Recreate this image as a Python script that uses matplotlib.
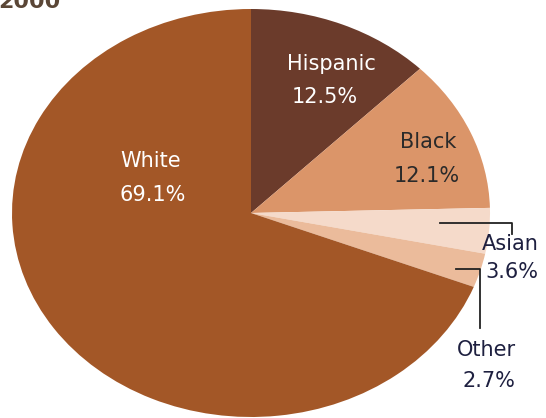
import numpy as np
import matplotlib.pyplot as plt
from matplotlib.lines import Line2D

# Data
groups = ['Hispanic', 'Black', 'Asian', 'Other', 'White']
shares = [12.5, 12.1, 3.6, 2.7, 69.1]
colors = ['#6B3B2B', '#DB9569', '#F5DACA', '#EBBB9B', '#A35727']
year = '2000'

W, H = 546, 418
fig = plt.figure(figsize=(W / 100, H / 100), dpi=100)


def px(x, y):
    # pixel coords (from top-left) -> figure fraction
    return x / W, 1 - y / H


# pie is stretched horizontally in the reference, so use an auto-aspect axes
left, right, top, bottom = 12, 490, 9, 417
ax = fig.add_axes([left / W, 1 - bottom / H, (right - left) / W, (bottom - top) / H])
ax.pie(shares, colors=colors, startangle=90, counterclock=False,
       wedgeprops=dict(linewidth=0))
ax.set_aspect('auto')
ax.set_xlim(-1, 1)
ax.set_ylim(-1, 1)
ax.axis('off')

fs = 15
inside = {
    'Hispanic': ((331, 64), (325, 97), 'white'),
    'Black': ((428, 142), (427, 176), '#2a2a2a'),
    'White': ((151, 161), (153, 195), 'white'),
}
for g, s in zip(groups, shares):
    if g in inside:
        (x1, y1), (x2, y2), c = inside[g]
        fig.text(*px(x1, y1), g, color=c, fontsize=fs, ha='center', va='center')
        fig.text(*px(x2, y2), f'{s}%', color=c, fontsize=fs, ha='center', va='center')

# outside labels with leader lines
lab_col = '#1e2040'
fig.text(*px(510, 244), 'Asian', color=lab_col, fontsize=fs, ha='center', va='center')
fig.text(*px(512, 272), f'{shares[2]}%', color=lab_col, fontsize=fs, ha='center', va='center')
fig.text(*px(486, 350), 'Other', color=lab_col, fontsize=fs, ha='center', va='center')
fig.text(*px(489, 381), f'{shares[3]}%', color=lab_col, fontsize=fs, ha='center', va='center')

for pts in [[(440, 223), (512, 223), (512, 234)],
            [(456, 269), (480, 269), (480, 328)]]:
    xs, ys = zip(*[px(*p) for p in pts])
    fig.add_artist(Line2D(xs, ys, color='#222222', linewidth=1.3))

# title, cut off at the top in the reference
fig.text(*px(-2, 8), year, color='#5a4636', fontsize=16, fontweight='bold',
         ha='left', va='baseline')

fig.savefig('out.png', dpi=100)
